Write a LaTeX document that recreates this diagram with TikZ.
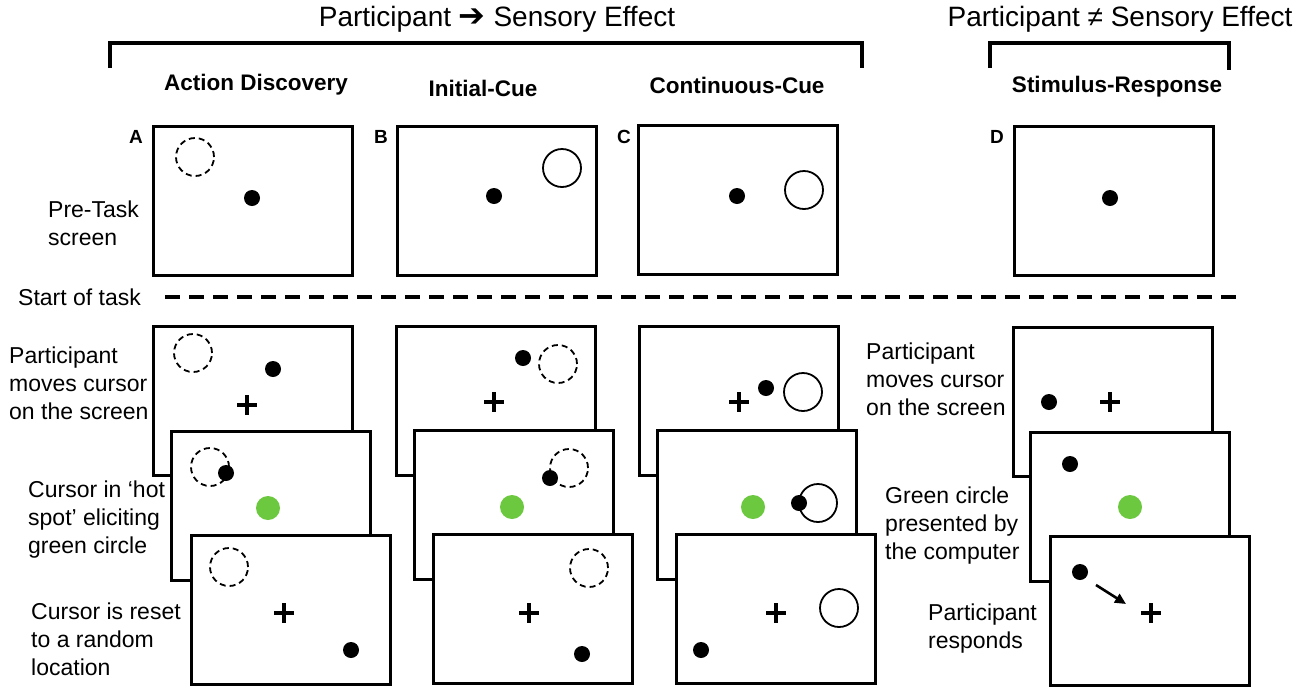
\documentclass[tikz,border=0pt]{standalone}
\usepackage{fontspec}
\setmainfont{Liberation Sans}
\newfontfamily\symfont{DejaVu Sans}
\usetikzlibrary{arrows.meta}
\definecolor{hotgreen}{RGB}{108,200,62}
\def\screen(#1,#2){\draw[frame] (#1,#2) rectangle ++(199,149);}
\def\cross(#1,#2){\draw[line width=3.4pt] (#1,#2) ++(-10,0) -- ++(20,0) (#1,#2) ++(0,-10) -- ++(0,20);}
\def\cursor(#1,#2){\fill (#1,#2) circle (8pt);}

\begin{document}
\begin{tikzpicture}[x=1pt,y=-1pt,
  frame/.style={line width=3pt,fill=white},
  hotspot/.style={line width=1.8pt,dash pattern=on 6pt off 4pt},
  target/.style={line width=1.8pt},
  flash/.style={fill=hotgreen},
  lbl/.style={inner sep=0pt,anchor=west,align=left,font=\fontsize{23}{28}\selectfont},
  head/.style={inner sep=0pt,font=\bfseries\fontsize{22.5}{26}\selectfont},
  letter/.style={inner sep=0pt,font=\bfseries\fontsize{19}{20}\selectfont},
  title/.style={inner sep=0pt,font=\fontsize{28}{32}\selectfont}]
  %%%%% START %%%%%
  \useasboundingbox (0,0) rectangle (1300,694);

  \node[title] (selfttl) at (497,19) {Participant {\symfont\bfseries\fontsize{32}{32}\selectfont ➔} Sensory Effect};
  \node[title] (otherttl) at (1120,19) {Participant ≠ Sensory Effect};
  \draw[line width=4pt] (110,68) -- (110,43) -- (862,43) -- (862,68);
  \draw[line width=4pt] (990,68) -- (990,43) -- (1229,43) -- (1229,70);

  \node[head] (adhead) at (256,85) {Action Discovery};
  \node[head] (ichead) at (483,88) {Initial-Cue};
  \node[head] (cchead) at (737,85) {Continuous-Cue};
  \node[head] (srhead) at (1117,87) {Stimulus-Response};

  \node[letter] (la) at (136,137) {A};
  \node[letter] (lb) at (381,137) {B};
  \node[letter] (lc) at (624,137) {C};
  \node[letter] (ld) at (997,137) {D};

  % pre-task screens
  \node[lbl] (pretask) at (48,223) {Pre-Task\\screen};
  \screen(153,126)
  \draw[hotspot] (195,157) circle (19pt);
  \cursor(252,198)
  \screen(397,126)
  \cursor(494,196)
  \draw[target] (562,168) circle (19pt);
  \screen(638,125)
  \cursor(737,196)
  \draw[target] (804,190) circle (19pt);
  \screen(1014,126)
  \cursor(1110,198)

  \node[lbl] (start) at (18,297) {Start of task};
  \draw[line width=3.5pt,dash pattern=on 15pt off 9pt] (165,297) -- (1240,297);

  % action discovery
  \node[lbl] (moveA) at (9,383) {Participant\\moves cursor\\on the screen};
  \node[lbl] (hotA) at (28,520) {Cursor in ‘hot\\spot’ eliciting\\green circle};
  \node[lbl] (resetA) at (31,639) {Cursor is reset\\to a random\\location};
  \screen(153,326)
  \draw[hotspot] (193,353) circle (19pt);
  \cursor(273,369)
  \cross(247,405)
  \screen(171,431)
  \draw[hotspot] (210,467) circle (19pt);
  \cursor(226,473)
  \fill[flash] (268,508) circle (12pt);
  \screen(191,535)
  \draw[hotspot] (229,567) circle (19pt);
  \cross(284,613)
  \cursor(351,650)

  % initial cue
  \screen(396,326)
  \cursor(523,358)
  \draw[hotspot] (558,364) circle (19pt);
  \cross(494,402)
  \screen(414,430)
  \draw[hotspot] (569,468) circle (19pt);
  \cursor(550,478)
  \fill[flash] (512,507) circle (12pt);
  \screen(433,534)
  \draw[hotspot] (589,568) circle (19pt);
  \cross(529,613)
  \cursor(582,654)

  % continuous cue
  \screen(639,326)
  \cross(739,402)
  \cursor(766,388)
  \draw[target] (803,392) circle (19pt);
  \screen(657,430)
  \fill[flash] (753,507) circle (12pt);
  \draw[target] (818,503) circle (19pt);
  \cursor(799,503)
  \screen(676,534)
  \cross(776,613)
  \draw[target] (839,608) circle (19pt);
  \cursor(701,650)

  % stimulus-response
  \node[lbl] (moveD) at (866,379) {Participant\\moves cursor\\on the screen};
  \node[lbl] (showD) at (885,526) {Green circle\\presented by\\the computer};
  \node[lbl] (respD) at (928,629) {Participant\\responds};
  \screen(1013,327)
  \cursor(1049,402)
  \cross(1110,402)
  \screen(1030,432)
  \cursor(1070,464)
  \fill[flash] (1130,507) circle (12pt);
  \screen(1050,536)
  \cursor(1080,572)
  \coordinate (press) at (1096,585);
  \coordinate (aim) at (1126,604);
  \draw[line width=2.6pt,-{Triangle[length=11pt,width=10pt]}] (press) -- (aim);
  \cross(1151,613)
  %%%%% END %%%%%
\end{tikzpicture}
\end{document}
